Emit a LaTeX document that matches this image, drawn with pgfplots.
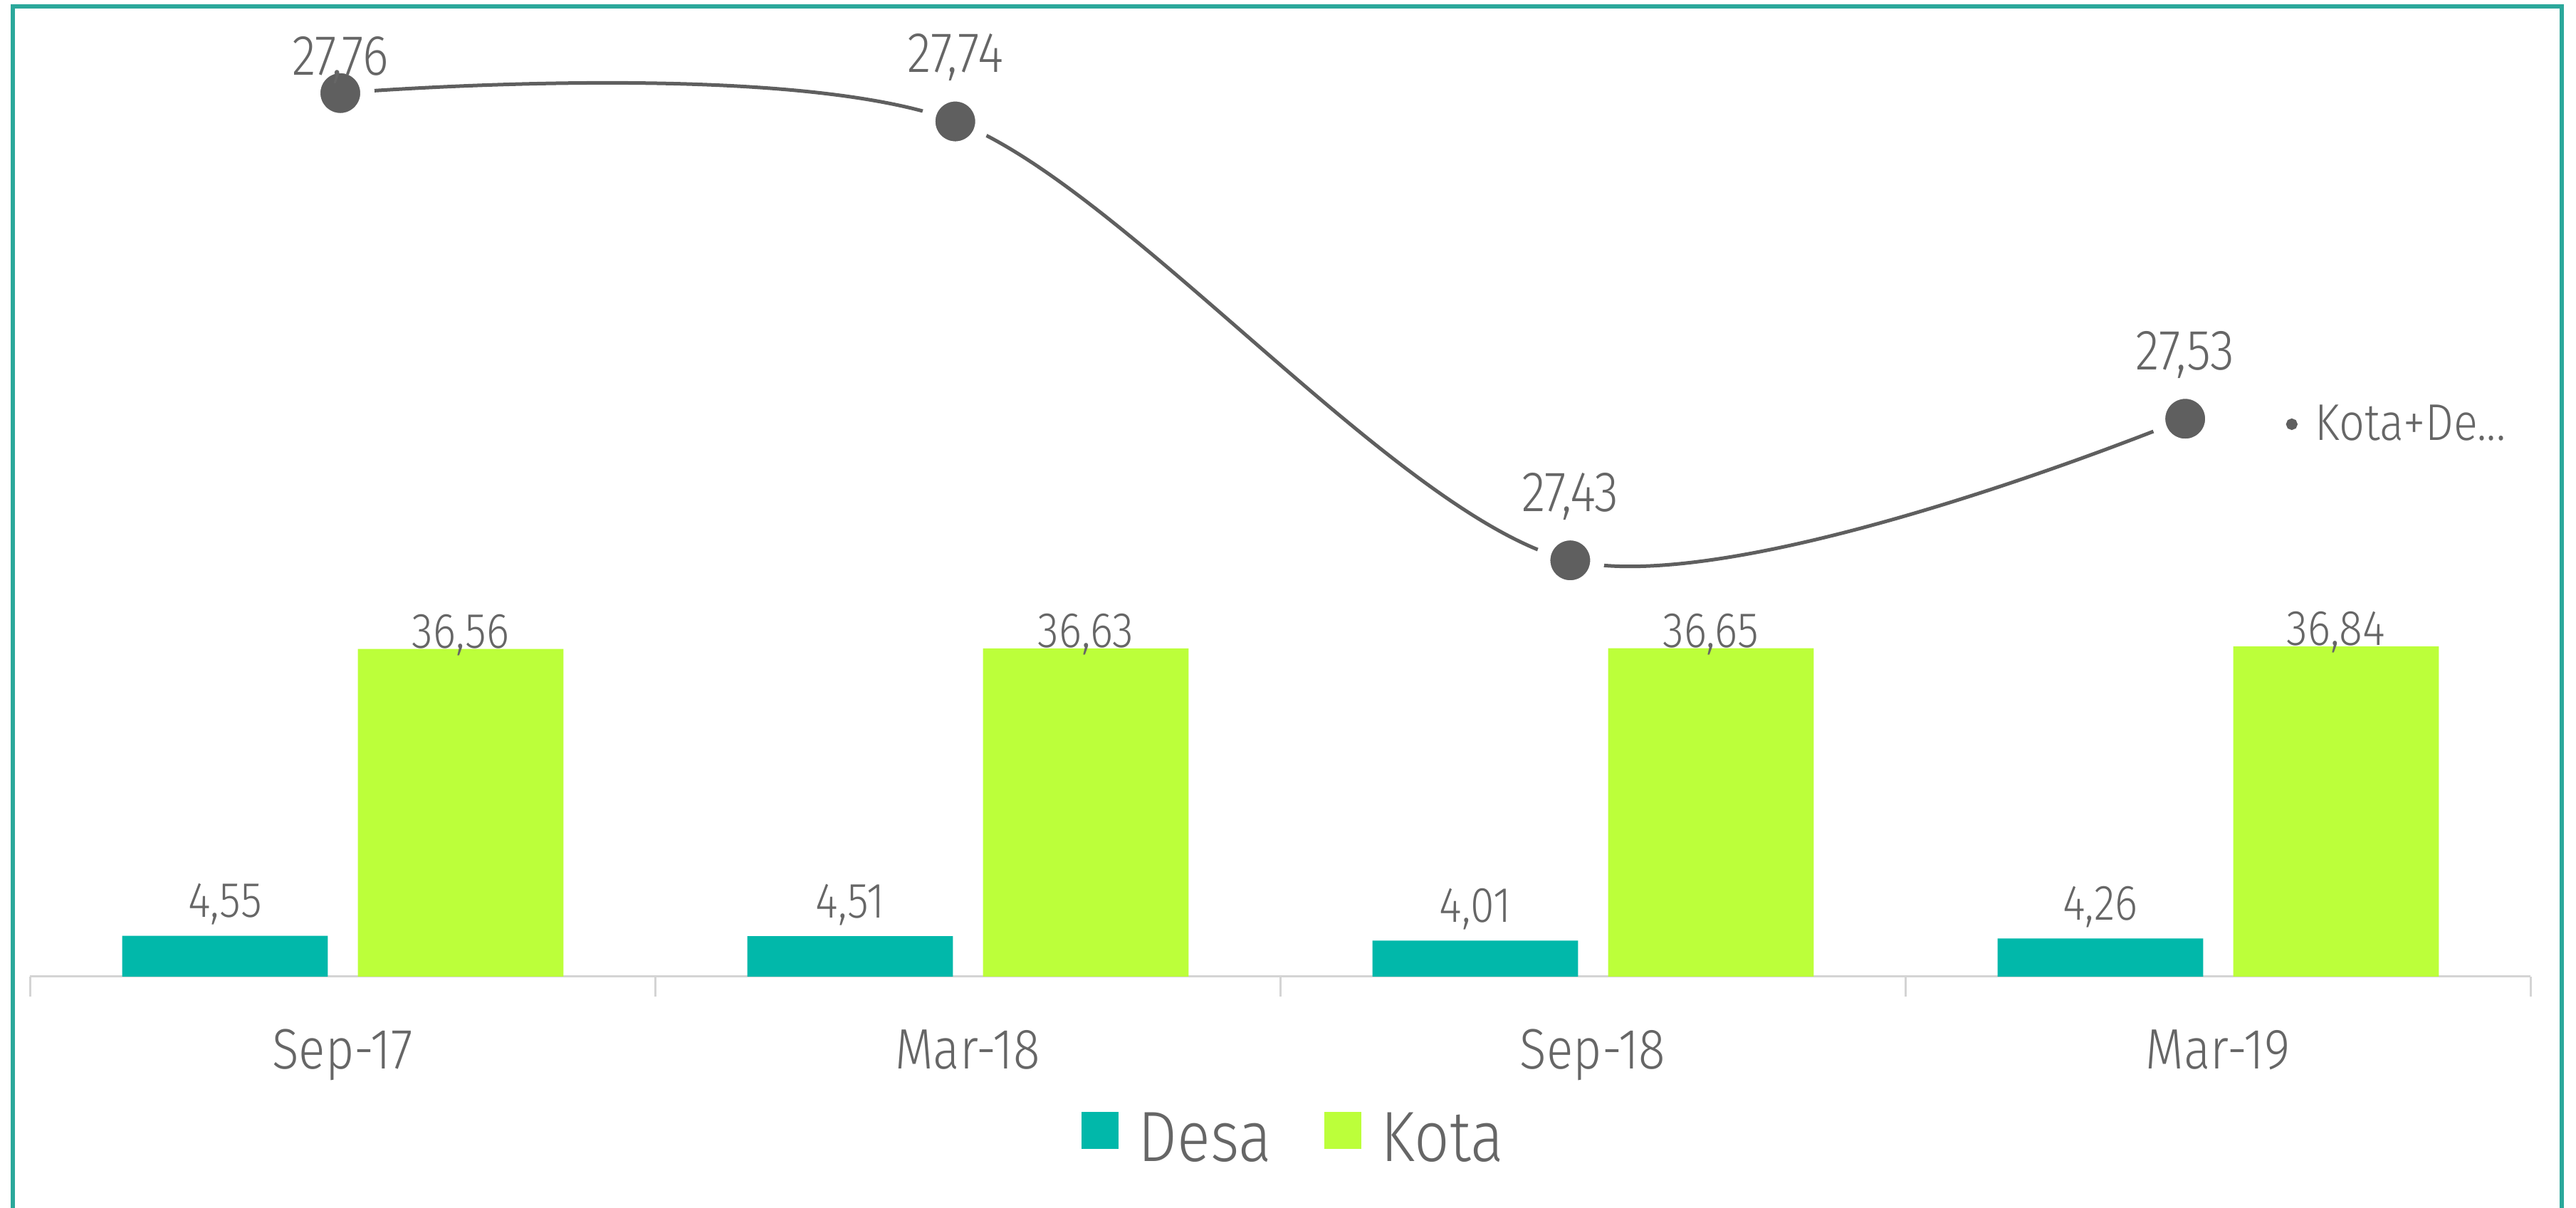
\documentclass[border=0pt]{standalone}
\usepackage{fontspec}
\setmainfont{Fira Sans}[UprightFont={* Light}, FakeStretch=0.87]
\usepackage{pgfplots}
\pgfplotsset{compat=1.18}
\usepackage{pgfplotstable}
\definecolor{desa}{HTML}{01B8AA}
\definecolor{kota}{HTML}{BCFF3A}
\definecolor{txt}{HTML}{666666}
\definecolor{ln}{HTML}{5F5F5F}
\definecolor{frame}{HTML}{2BA89B}
\definecolor{axl}{HTML}{D4D4D4}

\pgfplotstableread{
x desa kota
0 4.55 36.56
1 4.51 36.63
2 4.01 36.65
3 4.26 36.84
}\barstab
\pgfplotstableread{
x total off
0 27.76 5
1 27.74 13.8
2 27.43 13.8
3 27.53 13.8
}\totaltab

\pgfplotsset{sqlegend/.style={legend image code/.code={\fill[##1] (0pt,-2.6pt) rectangle (10.4pt,7.8pt);}}}

\begin{document}
\begin{tikzpicture}
\draw[frame, line width=1.2pt] (3.6pt,-3pt) -- (3.6pt,337.6pt) -- (719.6pt,337.6pt) -- (719.6pt,-3pt);
\begin{axis}[
  at={(8.4pt,65pt)}, anchor=south west,
  scale only axis, width=702.4pt, height=268.4pt,
  xmin=-0.5, xmax=3.5, ymin=0, ymax=106.59,
  axis x line*=bottom, axis y line=none,
  x axis line style={draw=axl, line width=0.6pt, -},
  xtick={0,1,2,3}, xticklabels={Sep-17,Mar-18,Sep-18,Mar-19},
  major tick length=0pt,
  minor xtick={-0.5,0.5,1.5,2.5,3.5},
  minor tick length=5.6pt, tick align=outside,
  minor tick style={draw=axl, line width=0.6pt},
  xticklabel style={font=\fontsize{16}{19}\selectfont, text=txt, anchor=base, yshift=-26pt},
  ybar, bar width=0.329, bar shift=0pt,
  nodes near coords={\pgfmathprintnumber[fixed,fixed zerofill,precision=2,use comma,assume math mode=true]{\pgfplotspointmeta}},
  legend style={at={(0.5050,-0.1699)}, anchor=center, draw=none, fill=none, inner sep=0pt,
    legend columns=2, nodes={text=txt, font=\fontsize{20}{24}\selectfont, inner sep=0pt},
    /tikz/every odd column/.append style={column sep=5.5pt},
    /tikz/every even column/.append style={column sep=14.8pt}},
]
\addplot[fill=desa, draw=none, sqlegend,
  every node near coord/.append style={font=\fontsize{14}{17}\selectfont, text=txt, anchor=base, yshift=5.2pt}]
  table[x expr=\thisrow{x}-0.188, y=desa]{\barstab};
\addlegendentry{Desa}
\addplot[fill=kota, draw=none, sqlegend,
  every node near coord/.append style={font=\fontsize{14}{17}\selectfont, text=txt, anchor=base, yshift=0.3pt}]
  table[x expr=\thisrow{x}+0.189, y=kota]{\barstab};
\addlegendentry{Kota}
\end{axis}
\begin{axis}[
  at={(8.4pt,65pt)}, anchor=south west,
  scale only axis, width=702.4pt, height=268.4pt,
  xmin=-0.5048, xmax=3.5614, ymin=27.136, ymax=27.8107,
  axis lines=none, clip=false,
  legend style={at={(0.9020,0.5775)}, anchor=west, draw=none, fill=none, inner sep=0pt,
    nodes={text=txt, font=\fontsize{14.5}{17}\selectfont, inner sep=0pt},
    /tikz/every odd column/.append style={column sep=5pt}},
  legend image code/.code={\fill[ln] (1.1pt,0.2pt) circle (1.1pt);},
]
\addplot[ln, line width=1pt, smooth, mark=*, mark size=7.6pt,
  mark options={fill=ln, draw=white, line width=4pt},
  visualization depends on={\thisrow{off} \as \myoff},
  nodes near coords={\pgfmathprintnumber[fixed,fixed zerofill,precision=2,use comma,assume math mode=true]{\pgfplotspointmeta}},
  every node near coord/.append style={font=\fontsize{16}{19}\selectfont, text=txt, anchor=base, yshift=\myoff pt}]
  table[x=x, y=total]{\totaltab};
\addlegendentry{Kota+De...}
\end{axis}
\pgfresetboundingbox
\useasboundingbox (0,0) rectangle (723.6pt,339.4pt);
\end{tikzpicture}
\end{document}
